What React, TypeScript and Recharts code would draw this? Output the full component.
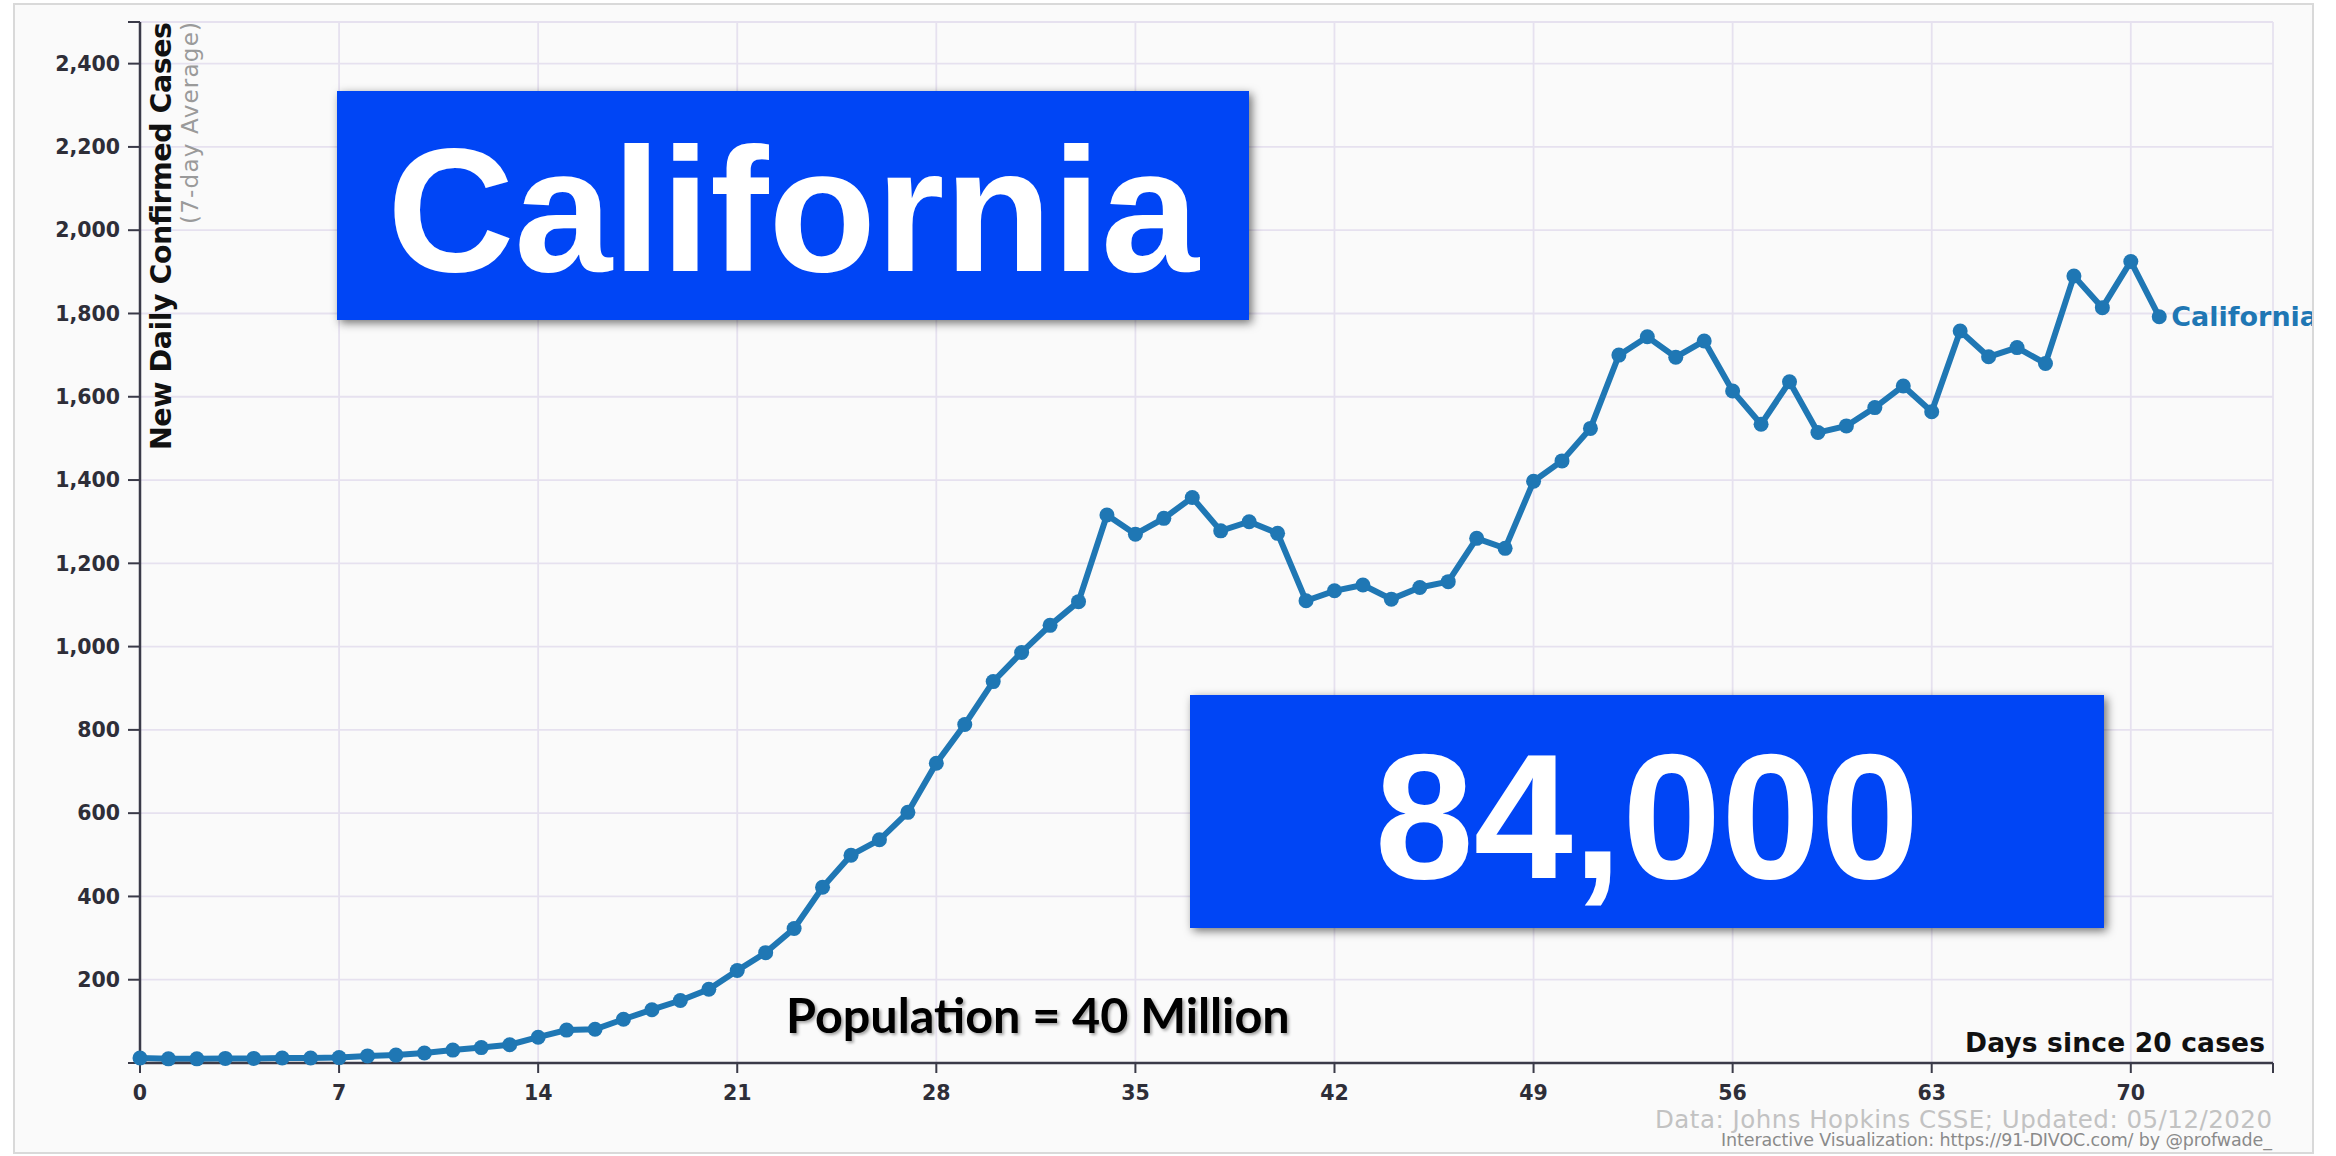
import { LineChart, Line, XAxis, YAxis, CartesianGrid, LabelList } from "recharts";

// days since 20 cases
const days = [
  0, 1, 2, 3, 4, 5, 6, 7, 8, 9, 10, 11, 12, 13, 14, 15, 16, 17, 18, 19, 20, 21, 22, 23,
  24, 25, 26, 27, 28, 29, 30, 31, 32, 33, 34, 35, 36, 37, 38, 39, 40, 41, 42, 43, 44, 45, 46, 47,
  48, 49, 50, 51, 52, 53, 54, 55, 56, 57, 58, 59, 60, 61, 62, 63, 64, 65, 66, 67, 68, 69, 70, 71,
];

// new daily confirmed cases, 7-day average
const californiaCases = [
  12, 10, 10, 11, 11, 12, 12, 13, 17, 19, 24, 31, 37, 44, 62, 79, 81, 105, 128, 150, 177, 222, 265, 323,
  422, 499, 536, 602, 720, 813, 916, 986, 1051, 1108, 1316, 1270, 1308, 1358, 1278, 1300, 1272, 1110, 1134, 1148,
  1114, 1142, 1156, 1260, 1236, 1397, 1446, 1524, 1700, 1744, 1695, 1734, 1614, 1534, 1636, 1514, 1530, 1574,
  1626, 1564, 1758, 1696, 1718, 1680, 1890, 1814, 1925, 1792,
];

const xTicks = [0, 7, 14, 21, 28, 35, 42, 49, 56, 63, 70, 75];
const yTicks = [0, 200, 400, 600, 800, 1000, 1200, 1400, 1600, 1800, 2000, 2200, 2400, 2500];

const seriesName = "California";
const bigNumber = "84,000";
const population = "Population = 40 Million";

const data = days.map((d, i) => ({ day: d, cases: californiaCases[i] }));

const LINE = "#1f77b4";
const BLUE_BOX = "#0044f5";
const GRID = "#e6e1ef";
const AXIS = "#3a3a48";

const tickStyle = {
  fontFamily: "DejaVu Sans",
  fontWeight: "bold" as const,
  fontSize: 20.5,
  fill: "#2e2e38",
};

// only the last point gets the series name
const EndLabel = (props: any) => {
  const { x, y, index } = props;
  if (index !== data.length - 1) return null;
  return (
    <text
      x={x + 12}
      y={y}
      dominantBaseline="central"
      fill={LINE}
      style={{ fontFamily: "DejaVu Sans", fontWeight: "bold", fontSize: 27 }}
    >
      {seriesName}
    </text>
  );
};

export default function App() {
  return (
    <div style={{ position: "absolute", left: 0, top: 0, width: 2336, height: 1156, background: "#fff" }}>
      {/* frame */}
      <div
        style={{
          position: "absolute",
          left: 13,
          top: 3,
          width: 2301,
          height: 1151,
          boxSizing: "border-box",
          border: "2px solid #d9d9d9",
          background: "#fafafa",
        }}
      />

      {/* chart */}
      <div style={{ position: "absolute", left: 0, top: 0, width: 2312, height: 1156, overflow: "hidden" }}>
        <LineChart
          width={2312}
          height={1156}
          data={data}
          margin={{ top: 22, right: 39, bottom: 63, left: 80 }}
        >
          <CartesianGrid stroke={GRID} strokeWidth={1.8} />
          <XAxis
            dataKey="day"
            type="number"
            domain={[0, 75]}
            ticks={xTicks}
            interval={0}
            height={30}
            tickSize={10}
            tickMargin={12}
            stroke={AXIS}
            axisLine={{ stroke: AXIS, strokeWidth: 2.5 }}
            tickLine={{ stroke: AXIS, strokeWidth: 2 }}
            tick={tickStyle}
            tickFormatter={(v: number) => (v === 75 ? "" : String(v))}
          />
          <YAxis
            type="number"
            domain={[0, 2500]}
            ticks={yTicks}
            interval={0}
            width={60}
            tickSize={12}
            tickMargin={8}
            stroke={AXIS}
            axisLine={{ stroke: AXIS, strokeWidth: 2.5 }}
            tickLine={{ stroke: AXIS, strokeWidth: 2 }}
            tick={tickStyle}
            tickFormatter={(v: number) =>
              v === 0 || v === 2500 ? "" : v.toLocaleString("en-US")
            }
          />
          <Line
            dataKey="cases"
            stroke={LINE}
            strokeWidth={6}
            dot={{ r: 7.5, fill: LINE, stroke: "none" }}
            activeDot={false}
            isAnimationActive={false}
          >
            <LabelList dataKey="cases" content={EndLabel} />
          </Line>
        </LineChart>
      </div>

      {/* annotations */}
      <svg
        width={2336}
        height={1156}
        style={{ position: "absolute", left: 0, top: 0, pointerEvents: "none" }}
      >
        <defs>
          <filter id="boxShadow" x="-10%" y="-10%" width="120%" height="130%">
            <feDropShadow dx="3" dy="3" stdDeviation="5" floodColor="#000" floodOpacity="0.55" />
          </filter>
          <filter id="textShadow" x="-5%" y="-20%" width="110%" height="150%">
            <feDropShadow dx="2" dy="2" stdDeviation="1.5" floodColor="#000" floodOpacity="0.35" />
          </filter>
        </defs>

        {/* axis titles */}
        <text
          transform="translate(171,22) rotate(-90)"
          textAnchor="end"
          textLength={428}
          lengthAdjust="spacing"
          style={{ fontFamily: "DejaVu Sans", fontWeight: "bold", fontSize: 28.5, fill: "#111" }}
        >
          New Daily Confirmed Cases
        </text>
        <text
          transform="translate(198,22) rotate(-90)"
          textAnchor="end"
          textLength={202}
          lengthAdjust="spacing"
          style={{ fontFamily: "DejaVu Sans", fontSize: 23, fill: "#9a9a9a" }}
        >
          (7-day Average)
        </text>
        <text
          x={2265}
          y={1052}
          textAnchor="end"
          textLength={300}
          lengthAdjust="spacing"
          style={{ fontFamily: "DejaVu Sans", fontWeight: "bold", fontSize: 26.5, fill: "#111" }}
        >
          Days since 20 cases
        </text>

        {/* footer */}
        <text
          x={2272}
          y={1128}
          textAnchor="end"
          textLength={617}
          lengthAdjust="spacing"
          style={{ fontFamily: "DejaVu Sans", fontSize: 24.5, fill: "#c2c2c2" }}
        >
          Data: Johns Hopkins CSSE; Updated: 05/12/2020
        </text>
        <text
          x={2272}
          y={1146}
          textAnchor="end"
          textLength={551}
          lengthAdjust="spacing"
          style={{ fontFamily: "DejaVu Sans", fontSize: 17.5, fill: "#8a8a8a" }}
        >
          Interactive Visualization: https://91-DIVOC.com/ by @profwade_
        </text>

        {/* state box */}
        <rect x={337} y={91} width={912} height={229} fill={BLUE_BOX} filter="url(#boxShadow)" />
        <text
          x={793}
          y={271}
          textAnchor="middle"
          style={{ fontFamily: "Liberation Sans", fontWeight: "bold", fontSize: 176, fill: "#fff" }}
        >
          {seriesName}
        </text>

        {/* total cases box */}
        <rect x={1190} y={695} width={914} height={233} fill={BLUE_BOX} filter="url(#boxShadow)" />
        <text
          x={1647}
          y={878}
          textAnchor="middle"
          style={{ fontFamily: "Liberation Sans", fontWeight: "bold", fontSize: 178, fill: "#fff" }}
        >
          {bigNumber}
        </text>

        <text
          x={786}
          y={1033}
          filter="url(#textShadow)"
          style={{ fontFamily: "Lato", fontWeight: "bold", fontSize: 48.5, fill: "#000" }}
        >
          {population}
        </text>
      </svg>
    </div>
  );
}
